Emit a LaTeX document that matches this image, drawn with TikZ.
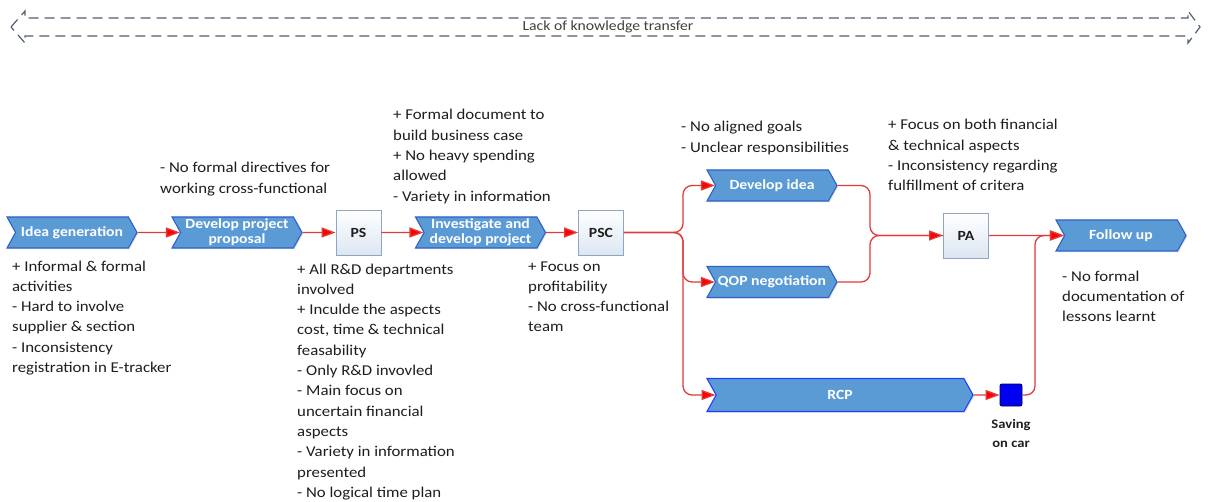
\documentclass[tikz,border=0pt]{standalone}
\usepackage{fontspec}
\setmainfont{Carlito}[FakeStretch=1.12]
\usetikzlibrary{shapes.symbols,arrows.meta,shadows}
\definecolor{chevfill}{HTML}{5B9BD5}
\definecolor{chevline}{HTML}{2F62C8}
\definecolor{rcpline}{HTML}{1F3FFF}
\definecolor{boxline}{HTML}{8EA6C4}
\definecolor{boxfill}{HTML}{DCE6F2}
\definecolor{flow}{HTML}{E03A3A}
\definecolor{flowtip}{HTML}{FF0000}
\definecolor{transfer}{HTML}{4F5F70}
\definecolor{notetext}{HTML}{1E1E1E}
\definecolor{savefill}{HTML}{0000F0}
\definecolor{saveline}{HTML}{00004A}
\begin{document}
\begin{tikzpicture}[x=1pt,y=-1pt,
  chevron/.style={shape=signal, signal from=west, signal to=east,
    signal pointer angle=122, fill=chevfill, draw=chevline, line width=1.1pt,
    text=white, font=\fontsize{14}{15}\selectfont\bfseries, align=center,
    inner sep=0pt, minimum height=31pt, minimum width=130pt,
    drop shadow={shadow xshift=1.2pt, shadow yshift=-1.2pt, opacity=0.25, fill=gray}},
  gate/.style={draw=boxline, line width=0.9pt, top color=white, bottom color=boxfill,
    minimum size=45pt, inner sep=0pt, font=\fontsize{14}{15}\selectfont\bfseries, text=notetext},
  % notes are placed by the baseline of their last line
  note/.style={anchor=base west, align=left, inner sep=0pt,
    font=\fontsize{15}{20.3}\selectfont, text=notetext},
  flowline/.style={draw=flow, line width=1.3pt, rounded corners=9pt},
  flowarrow/.style={flowline, -{Triangle[length=14pt,width=10pt,fill=flowtip]}},
  savebox/.style={fill=savefill, draw=saveline, line width=0.9pt, rounded corners=2pt,
    minimum size=22pt, inner sep=0pt}
]
\useasboundingbox (0,0) rectangle (1209,502);

% knowledge transfer band across the top
\draw[transfer, line width=1.2pt, dash pattern=on 10pt off 6pt]
  (11,27) -- (25,11) -- (25,18) -- (1188,18) -- (1188,11) -- (1200,27)
  -- (1188,43) -- (1188,36) -- (25,36) -- (25,43) -- cycle;
\node[font=\fontsize{14}{15}\selectfont, text=notetext!85] (transfer) at (608,27) {Lack of knowledge transfer};

% process steps
\node[chevron] (idea) at (72,232.5) {Idea generation};
\node[chevron] (proposal) at (237,232.5) {Develop project\\proposal};
\node[gate] (ps) at (358.5,232.5) {PS};
\node[chevron] (invest) at (480.5,232.5) {Investigate and\\develop project};
\node[gate] (psc) at (601,232.5) {PSC};
\node[chevron] (devidea) at (772,185.5) {Develop idea};
\node[chevron] (qop) at (772,282) {QOP negotiation};
\node[gate] (pa) at (966,235.5) {PA};
\node[chevron] (follow) at (1121,235.5) {Follow up};
\node[chevron, draw=rcpline, minimum width=266pt, minimum height=33pt] (rcp) at (840,395) {RCP};
\node[savebox] (saving) at (1011,395) {};
\node[anchor=north, align=center, inner sep=0pt, font=\fontsize{13}{19}\selectfont\bfseries, text=notetext]
  (savinglabel) at (1011,419) {Saving\\on car};

% flow connectors
\coordinate (split) at (683,232.5);
\coordinate (mergeup) at (870,185.5);
\coordinate (mergedown) at (870,282);
\coordinate (backup) at (1035,395);
\draw[flowarrow] (idea) -- (proposal);
\draw[flowarrow] (proposal) -- (ps);
\draw[flowarrow] (ps) -- (invest);
\draw[flowarrow] (invest) -- (psc);
\draw[flowarrow] (psc.east) -- (split) |- (devidea.west);
\draw[flowarrow] (psc.east) -- (split) |- (qop.west);
\draw[flowarrow] (psc.east) -- (split) |- (rcp.west);
\draw[flowline] (devidea.east) -- (mergeup) |- (pa.west);
\draw[flowarrow] (qop.east) -- (mergedown) |- (pa.west);
\draw[flowarrow] (pa) -- (follow);
\draw[flowarrow] (rcp) -- (saving);
\draw[flowarrow] (saving.east) -- (backup) |- (follow.west);

% remarks per step
\node[note] (n1) at (12,372.5) {+ Informal \& formal\\activities\\- Hard to involve\\supplier \& section\\- Inconsistency\\registration in E-tracker};
\node[note] (n2) at (160,193.3) {- No formal directives for\\working cross-functional};
\node[note] (n3) at (297,497.3) {+ All R\&D departments\\involved\\+ Inculde the aspects\\cost, time \& technical\\feasability\\- Only R\&D invovled\\- Main focus on\\uncertain financial\\aspects\\- Variety in information\\presented\\- No logical time plan};
\node[note] (n4) at (393,201.2) {+ Formal document to\\build business case\\+ No heavy spending\\allowed\\- Variety in information};
\node[note] (n5) at (528,331.9) {+ Focus on\\profitability\\- No cross-functional\\team};
\node[note] (n6) at (681,152.3) {- No aligned goals\\- Unclear responsibilities};
\node[note] (n7) at (888,190.9) {+ Focus on both financial\\\& technical aspects\\- Inconsistency regarding\\fulfillment of critera};
\node[note] (n8) at (1062,321.6) {- No formal\\documentation of\\lessons learnt};
\end{tikzpicture}
\end{document}
